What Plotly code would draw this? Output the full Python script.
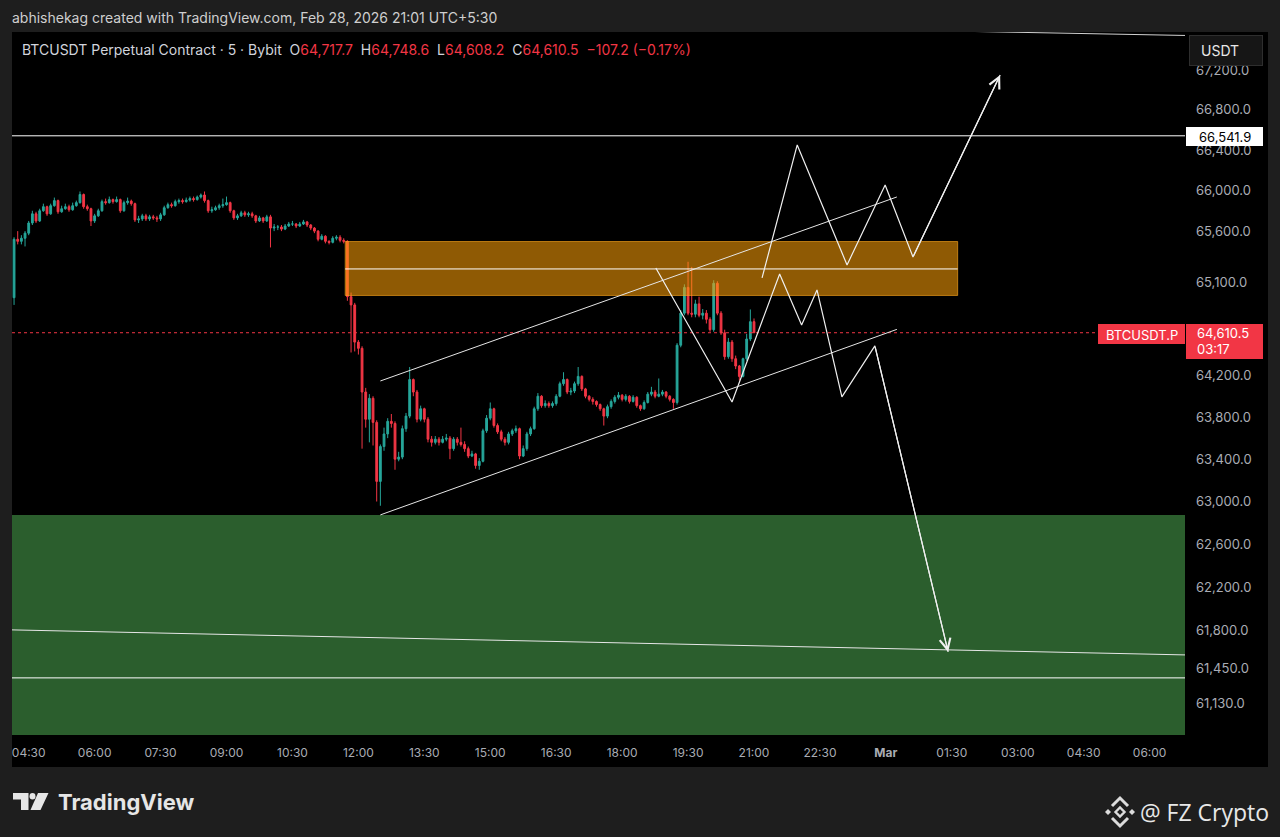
"""BTCUSDT.P 5m chart with the channel / zone sketch, TradingView dark style."""

import numpy as np
import pandas as pd
import plotly.graph_objects as go

# page / plot box in pixels
W, H = 1280, 837
PL, PR, PT, PB = 12, 1185, 32, 735

# 5 minute candles, Bybit BTCUSDT perpetual
first_open = 64950
closes = [
    65520, 65500, 65530, 65580, 65680, 65770, 65700, 65800, 65840, 65770,
    65850, 65900, 65790, 65820, 65840, 65810, 65850, 65880, 65960, 65840,
    65820, 65700, 65750, 65800, 65890, 65880, 65910, 65890, 65910, 65800,
    65880, 65895, 65870, 65710, 65720, 65750, 65720, 65740, 65730, 65720,
    65760, 65830, 65860, 65850, 65890, 65900, 65890,
    65905, 65920, 65910, 65935,
    65955, 65900, 65800, 65810, 65830, 65850, 65860, 65880, 65800, 65730,
    65750, 65780, 65760, 65770, 65750, 65700, 65730, 65700, 65740, 65630,
    65640, 65640, 65620, 65650, 65670, 65670, 65650, 65670, 65690, 65660,
    65630, 65600, 65520, 65550, 65500, 65490, 65530, 65540, 65510, 65500,
    64960, 64880, 64520, 64460, 64040, 63780, 63980, 63750, 63190, 63520,
    63640, 63760, 63740, 63400, 63420, 63690, 63810, 64160, 64040, 63780,
    63880, 63780, 63590, 63560, 63590, 63560, 63590, 63600,
    63500, 63590, 63560,
    63540, 63500, 63430, 63450, 63340, 63380, 63670, 63790, 63880, 63720,
    63660, 63590, 63560, 63640, 63670, 63690, 63430, 63500, 63640, 63690,
    63880, 64000, 63910, 63930, 63910, 63930, 64000, 64120, 64160, 64040,
    64050, 64120, 64190, 64070, 64000, 63970, 63950, 63920, 63880, 63810,
    63900, 63950, 63990, 64010, 63970, 64000, 63950, 63990, 63910, 63880,
    63940, 64020, 64040, 64000, 64020, 64040, 64000, 63970, 63940, 64490,
    64800, 65050,
    64800, 64790, 64890, 64780, 64800, 64740, 64640, 65090, 64800, 64610,
    64380, 64520, 64360, 64290, 64190, 64360, 64550, 64717.7, 64610.5,
]
highs = [
    65540, 65600, 65560, 65600, 65700, 65800, 65790, 65820, 65870, 65850,
    65870, 65930, 65910, 65850, 65870, 65860, 65880, 65900, 65990, 65970,
    65860, 65830, 65770, 65820, 65910, 65920, 65940, 65920, 65940, 65920,
    65900, 65930, 65910, 65880, 65750, 65770, 65770, 65760, 65760, 65750,
    65780, 65850, 65880, 65880, 65910, 65920, 65920,
    65930, 65940, 65940, 65950,
    65970, 65990, 65910, 65840, 65850, 65870, 65920, 65940, 65890, 65810,
    65770, 65800, 65800, 65790, 65790, 65760, 65750, 65740, 65760, 65760,
    65670, 65660, 65660, 65670, 65690, 65700, 65680, 65690, 65710, 65700,
    65670, 65640, 65610, 65570, 65560, 65510, 65550, 65560, 65560, 65530,
    65510, 65000, 64900, 64540, 64480, 64080, 64020, 64000, 63770, 63540,
    63700, 63790, 63830, 63760, 63470, 63720, 63840, 64280, 64170, 64060,
    63910, 63890, 63800, 63620, 63620, 63610, 63620, 63640,
    63620, 63610, 63610,
    63700, 63570, 63520, 63480, 63460, 63410, 63690, 63820, 63940, 63890,
    63740, 63680, 63610, 63660, 63690, 63720, 63700, 63530, 63660, 63710,
    63900, 64030, 64010, 63960, 63950, 63950, 64020, 64140, 64230, 64170,
    64080, 64140, 64280, 64200, 64080, 64010, 63990, 63960, 63930, 63890,
    63920, 63970, 64010, 64040, 64020, 64020, 64010, 64010, 64000, 63920,
    63960, 64040, 64090, 64060, 64170, 64060, 64050, 64010, 63980, 64510,
    64830, 65080,
    65300, 65250, 64930, 64960, 64840, 64830, 64760, 65120, 65110, 64820,
    64640, 64560, 64540, 64390, 64300, 64370, 64600, 64836, 64748.6,
]
lows = [
    64880, 65470, 65470, 65450, 65560, 65660, 65680, 65690, 65790, 65750,
    65760, 65840, 65770, 65780, 65810, 65790, 65800, 65840, 65870, 65820,
    65800, 65650, 65680, 65740, 65790, 65860, 65870, 65870, 65880, 65780,
    65790, 65860, 65850, 65690, 65680, 65700, 65700, 65700, 65710, 65690,
    65700, 65750, 65820, 65830, 65840, 65870, 65870,
    65880, 65890, 65890, 65900,
    65920, 65880, 65780, 65780, 65800, 65810, 65830, 65850, 65780, 65710,
    65710, 65740, 65740, 65740, 65730, 65680, 65690, 65680, 65690, 65440,
    65600, 65610, 65600, 65610, 65640, 65650, 65630, 65640, 65660, 65640,
    65610, 65580, 65500, 65510, 65480, 65470, 65480, 65510, 65490, 65480,
    64920, 64420, 64430, 64400, 63500, 63700, 63560, 63530, 63000, 62960,
    63480, 63600, 63700, 63300, 63380, 63400, 63660, 63790, 64000, 63750,
    63760, 63750, 63560, 63520, 63540, 63530, 63550, 63570,
    63400, 63480, 63530,
    63520, 63470, 63410, 63420, 63310, 63300, 63370, 63650, 63770, 63700,
    63640, 63570, 63530, 63540, 63620, 63650, 63400, 63420, 63480, 63620,
    63680, 63860, 63890, 63890, 63890, 63890, 63910, 63990, 64100, 64020,
    64010, 64030, 64100, 64050, 63980, 63950, 63920, 63900, 63860, 63720,
    63790, 63880, 63930, 63970, 63950, 63950, 63930, 63940, 63890, 63860,
    63870, 63930, 64000, 63980, 63990, 64000, 63980, 63950, 63880, 63920,
    64470, 64780,
    64780, 64760, 64760, 64760, 64740, 64700, 64620, 64620, 64780, 64590,
    64350, 64360, 64330, 64260, 64150, 64180, 64340, 64530, 64608.2,
]
last_bar = "2026-02-28 21:00"
countdown = "03:17"

# axes
x_range = ["2026-02-28 04:07:12", "2026-03-01 06:48:18"]
price_range = [60838, 67583]
price_ticks = [67200, 66800, 66400, 66000, 65600, 65100, 64200, 63800,
               63400, 63000, 62600, 62200, 61800, 61450, 61130]
time_ticks = ["2026-02-28 04:30", "2026-02-28 06:00", "2026-02-28 07:30",
              "2026-02-28 09:00", "2026-02-28 10:30", "2026-02-28 12:00",
              "2026-02-28 13:30", "2026-02-28 15:00", "2026-02-28 16:30",
              "2026-02-28 18:00", "2026-02-28 19:30", "2026-02-28 21:00",
              "2026-02-28 22:30", "2026-03-01 00:00", "2026-03-01 01:30",
              "2026-03-01 03:00", "2026-03-01 04:30", "2026-03-01 06:00"]
time_labels = ["04:30", "06:00", "07:30", "09:00", "10:30", "12:00", "13:30",
               "15:00", "16:30", "18:00", "19:30", "21:00", "22:30", "Mar",
               "01:30", "03:00", "04:30", "06:00"]

# drawings on the chart (time, price)
supply_t = ["2026-02-28 11:42", "2026-03-01 01:38"]
supply_p = [64972, 65498]
supply_mid = 65230
demand_t = ["2026-02-27 12:00", "2026-03-01 18:00"]
demand_p = [59000, 62874]
level_hi = 66541.9
level_lo = 61360
channel_t = ["2026-02-28 12:30", "2026-03-01 00:15"]
channel_lo_p = [62874, 64643]
channel_hi_p = [64146, 65936]
trend_t = x_range
trend_p = [61802, 61571]
top_t = ["2026-03-01 00:00", x_range[1]]
top_p = [67605, 67548]
bull_t = ["2026-02-28 21:11", "2026-02-28 21:59", "2026-02-28 23:07",
          "2026-02-28 23:59", "2026-03-01 00:37", "2026-03-01 02:36"]
bull_p = [65142, 66451, 65269, 66054, 65347, 67150]
bear_t = ["2026-02-28 18:46", "2026-02-28 20:30", "2026-02-28 21:35",
          "2026-02-28 22:05", "2026-02-28 22:26", "2026-02-28 23:00",
          "2026-02-28 23:45", "2026-03-01 01:25"]
bear_p = [65239, 63945, 65181, 64686, 65025, 63993, 64483, 61599]
price_line_end = "2026-03-01 04:50"

UP, DOWN = "#26a69a", "#f23645"
FRAME, TXT, AXTXT = "#1e1e1e", "#d1d4dc", "#a9acb4"
FONT = "Inter"


def px(x):
    """Page pixel x -> paper x."""
    return (x - PL) / (PR - PL)


def py(y):
    """Page pixel y -> paper y."""
    return (PB - y) / (PB - PT)


def ly(p):
    """Annotations on a log axis want log10 values."""
    return float(np.log10(p))


def box(x0, y0, x1, y1, color, layer="above"):
    return dict(type="rect", xref="paper", yref="paper", x0=px(x0), x1=px(x1),
                y0=py(y1), y1=py(y0), fillcolor=color, line=dict(width=0),
                layer=layer)


def label(x, y, text, size=13, color=TXT, xanchor="left", family=FONT):
    return dict(xref="paper", yref="paper", x=px(x), y=py(y), text=text,
                showarrow=False, xanchor=xanchor, yanchor="middle",
                font=dict(family=family, size=size, color=color))


def plate(x0, y0, x1, y1, color, border=None):
    """Filled box as an annotation, so it sits over the tick labels."""
    return dict(xref="paper", yref="paper", x=px(x0), y=py(y0),
                xanchor="left", yanchor="top", text="&nbsp;", showarrow=False,
                width=x1 - x0 - 2, height=y1 - y0 - 2, borderpad=0,
                bgcolor=color, bordercolor=border or color, borderwidth=1,
                font=dict(size=8))


times = pd.date_range(end=last_bar, periods=len(closes), freq="5min")
opens = [first_open] + closes[:-1]

fig = go.Figure()


def line(xs, ys, color="#ffffff", width=1.0, dash=None):
    fig.add_trace(go.Scatter(x=xs, y=ys, mode="lines", hoverinfo="skip",
                             showlegend=False,
                             line=dict(color=color, width=width, dash=dash)))


def zone(ts, ps, fill, edge):
    fig.add_trace(go.Scatter(
        x=[ts[0], ts[1], ts[1], ts[0], ts[0]],
        y=[ps[0], ps[0], ps[1], ps[1], ps[0]],
        mode="lines", fill="toself", fillcolor=fill, hoverinfo="skip",
        showlegend=False, line=dict(color=edge, width=1)))


fig.add_trace(go.Candlestick(
    x=times, open=opens, high=highs, low=lows, close=closes,
    increasing=dict(line=dict(color=UP, width=1), fillcolor=UP),
    decreasing=dict(line=dict(color=DOWN, width=1), fillcolor=DOWN),
    whiskerwidth=0, hoverinfo="skip", showlegend=False,
))

# translucent zones go over the candles, like the TradingView rectangles
zone(demand_t, demand_p, "rgba(76,165,80,0.57)", "rgba(76,165,80,0)")
zone(supply_t, supply_p, "rgba(255,160,7,0.56)", "rgba(255,170,30,0.62)")
line([x_range[0], price_line_end], [closes[-1], closes[-1]], color=DOWN, dash="dot")

line(x_range, [level_hi, level_hi])
line(x_range, [level_lo, level_lo])
line(supply_t, [supply_mid, supply_mid])
line(trend_t, trend_p, color="#e6e6e6")
line(top_t, top_p, color="#d0d0d0")
line(channel_t, channel_lo_p, color="#e6e6e6")
line(channel_t, channel_hi_p, color="#e6e6e6")
line(bull_t, bull_p, color="#f0f0f0", width=1.2)
line(bear_t, bear_p, color="#f0f0f0", width=1.2)

shapes = [
    # grey frame round the black chart pane (paper itself is black)
    box(0, 0, W, PT, FRAME, "below"),
    box(0, 0, PL, H, FRAME, "below"),
    box(1268, 0, W, H, FRAME, "below"),
    box(0, 767, W, H, FRAME, "below"),
    # red last price tags
    box(1098, 324, 1185, 344, DOWN),
    box(1186, 324, 1263, 359, DOWN),
]

# TradingView logo glyph
logo = "#e6e6e6"
shapes += [
    dict(type="path", xref="paper", yref="paper", layer="above",
         path=(f"M{px(13)},{py(793)} L{px(28.5)},{py(793)} L{px(28.5)},{py(810)} "
               f"L{px(21)},{py(810)} L{px(21)},{py(799.5)} L{px(13)},{py(799.5)} Z"),
         fillcolor=logo, line=dict(width=0)),
    dict(type="circle", xref="paper", yref="paper", layer="above",
         x0=px(29.5), x1=px(35.5), y0=py(799.5), y1=py(793),
         fillcolor=logo, line=dict(width=0)),
    dict(type="path", xref="paper", yref="paper", layer="above",
         path=(f"M{px(38)},{py(793)} L{px(48.5)},{py(793)} L{px(40.5)},{py(810)} "
               f"L{px(30.5)},{py(810)} Z"),
         fillcolor=logo, line=dict(width=0)),
]

# small exchange-style diamond mark next to the watermark
cx, cy = 1120, 812


def diamond(x, y, r, fill=True):
    return dict(type="path", xref="paper", yref="paper", layer="above",
                path=(f"M{px(x - r)},{py(y)} L{px(x)},{py(y - r)} "
                      f"L{px(x + r)},{py(y)} L{px(x)},{py(y + r)} Z"),
                fillcolor="#dcdcdc" if fill else "rgba(0,0,0,0)",
                line=dict(color="#dcdcdc", width=0 if fill else 2.4))


shapes += [
    diamond(cx - 12, cy, 3), diamond(cx + 12, cy, 3), diamond(cx, cy, 4.5, False),
    dict(type="path", xref="paper", yref="paper", layer="above",
         path=f"M{px(cx - 8)},{py(cy - 6)} L{px(cx)},{py(cy - 14)} L{px(cx + 8)},{py(cy - 6)}",
         line=dict(color="#dcdcdc", width=3)),
    dict(type="path", xref="paper", yref="paper", layer="above",
         path=f"M{px(cx - 8)},{py(cy + 6)} L{px(cx)},{py(cy + 14)} L{px(cx + 8)},{py(cy + 6)}",
         line=dict(color="#dcdcdc", width=3)),
]

o, h, l, c = opens[-1], highs[-1], lows[-1], closes[-1]
chg = c - closes[-2]
red = f"<span style='color:{DOWN}'>"
legend = (f"BTCUSDT Perpetual Contract · 5 · Bybit&nbsp;&nbsp;O{red}{o:,.1f}</span>"
          f"&nbsp;&nbsp;H{red}{h:,.1f}</span>&nbsp;&nbsp;L{red}{l:,.1f}</span>"
          f"&nbsp;&nbsp;C{red}{c:,.1f}</span>&nbsp;&nbsp;"
          f"{red}{chg:+,.1f} ({chg / closes[-2] * 100:+.2f}%)</span>").replace("-", "−")

annotations = [
    label(10, 17, "abhishekag created with TradingView.com, Feb 28, 2026 21:01 UTC+5:30",
          size=14, color="#cfcfcf"),
    label(20, 49, legend, size=14),
    # plates that cover the scale labels behind them
    plate(1189, 35, 1263, 66, "#161616", "#2e2e2e"),
    label(1199, 50.5, "USDT", size=14, color="#e8e8e8"),
    plate(1186, 127, 1263, 146, "#ffffff"),
    label(1224.5, 137, f"{level_hi:,.1f}", size=13, color="#000000", xanchor="center"),
    label(1141.5, 334.5, "BTCUSDT.P", size=13, color="#ffffff", xanchor="center"),
    label(1195, 333, f"{c:,.1f}", size=13, color="#ffffff"),
    label(1195, 349, countdown, size=13, color="#ffffff"),
    label(56, 802, "<b>TradingView</b>", size=22, color=logo),
    label(1138, 812, "@ FZ Crypto", size=23, color="#e8e8e8", family="Open Sans"),
]
# arrow heads on the last leg of each projected path
for ts, ps in ((bull_t, bull_p), (bear_t, bear_p)):
    annotations.append(dict(
        x=ts[-1], y=ly(ps[-1]), ax=ts[-2], ay=ly(ps[-2]), xref="x", yref="y",
        axref="x", ayref="y", text="", showarrow=True, arrowhead=5,
        arrowsize=1.8, arrowwidth=1.2, arrowcolor="#f0f0f0", standoff=0))

fig.update_layout(
    width=W, height=H,
    margin=dict(l=PL, r=W - PR, t=PT, b=H - PB),
    paper_bgcolor="#000000", plot_bgcolor="#000000",
    font=dict(family=FONT, color=AXTXT),
    shapes=shapes, annotations=annotations,
    hovermode=False, showlegend=False,
    xaxis=dict(type="date", range=x_range, tickvals=time_ticks,
               ticktext=[f"<b>{t}</b>" if t == "Mar" else t for t in time_labels],
               showgrid=False, zeroline=False, showline=False, ticks="",
               ticklabelstandoff=9, tickfont=dict(size=12, color=AXTXT),
               rangeslider=dict(visible=False), fixedrange=True),
    yaxis=dict(type="log", range=[ly(price_range[0]), ly(price_range[1])],
               side="right", tickvals=price_ticks,
               ticktext=[f"{v:,.1f}" for v in price_ticks],
               showgrid=False, zeroline=False, showline=False, ticks="",
               ticklabelstandoff=10, tickfont=dict(size=13, color=AXTXT),
               fixedrange=True),
)

# the page body has a default 8px margin, drop it so the figure fills the window
fig.write_html("out.html", config=dict(displayModeBar=False),
               post_script="document.body.style.margin='0';")
